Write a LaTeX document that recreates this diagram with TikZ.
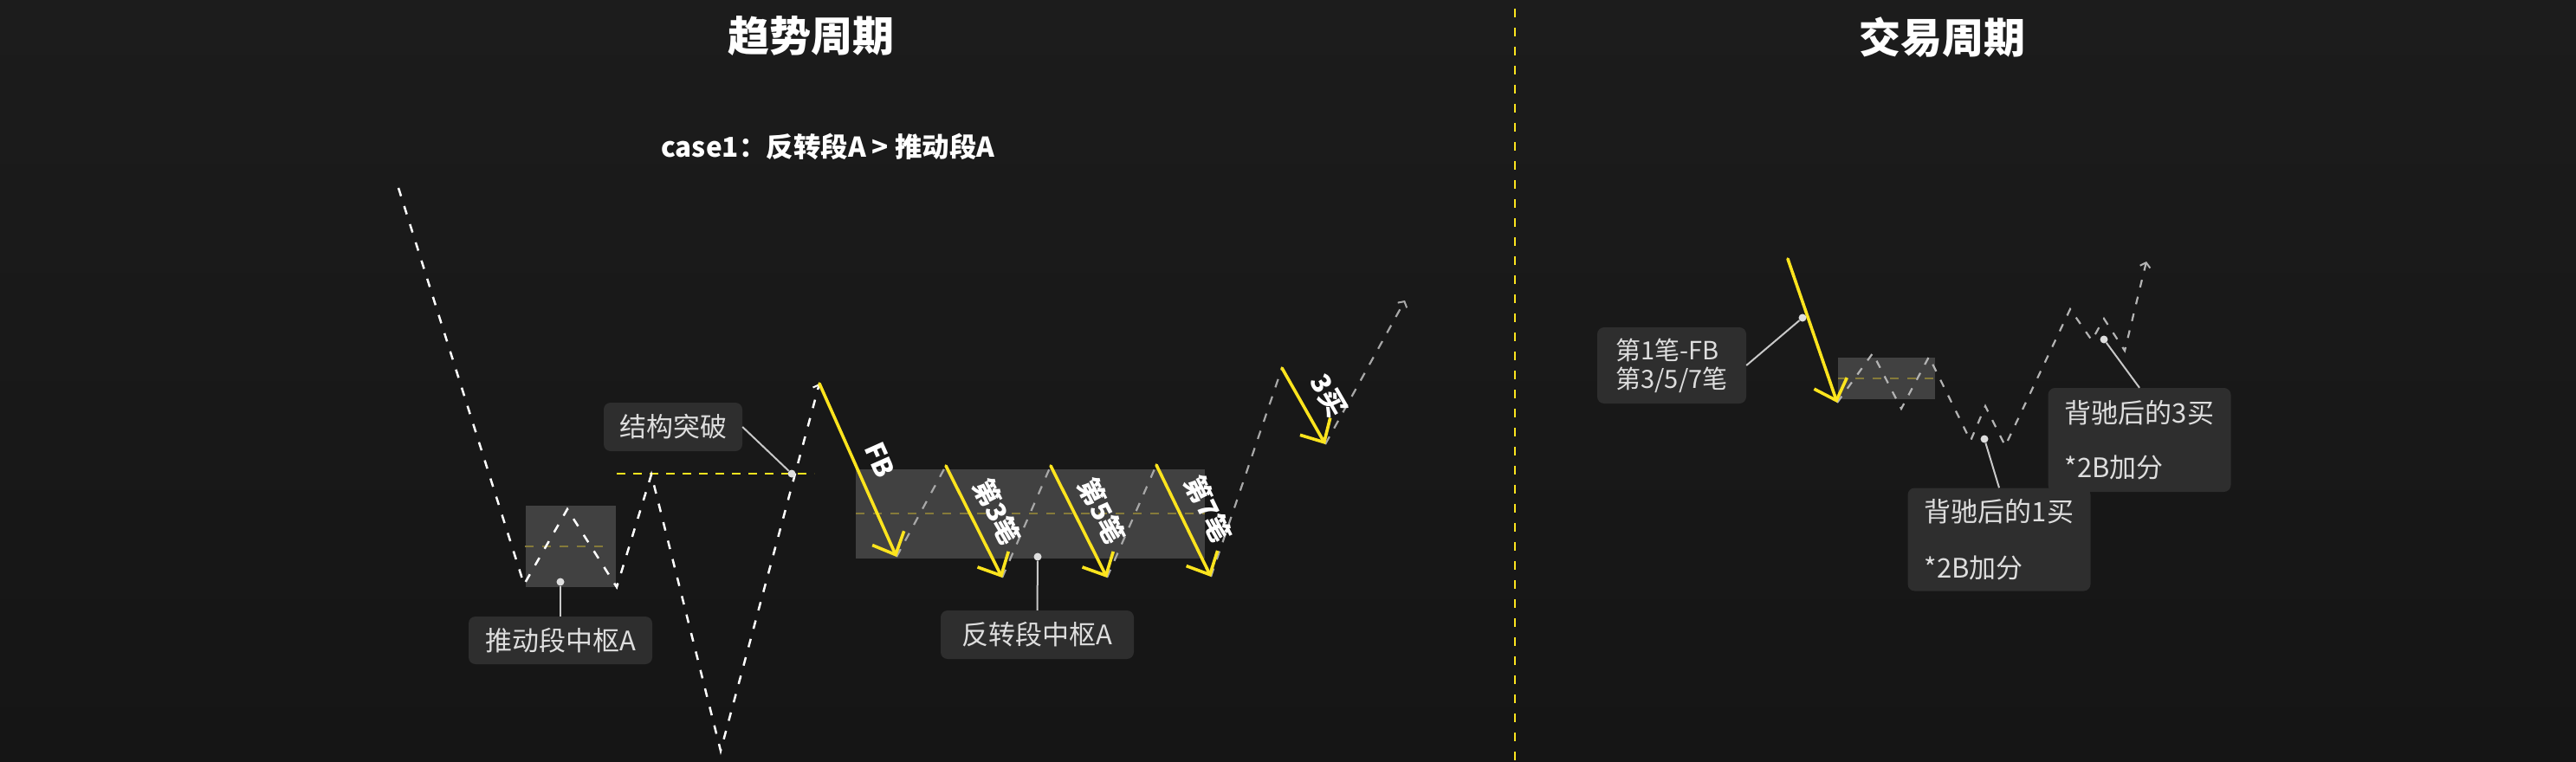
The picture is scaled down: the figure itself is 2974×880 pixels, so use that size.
\documentclass[tikz,border=0pt]{standalone}
\usepackage{fontspec}
\setmainfont{Noto Sans CJK SC}
\usetikzlibrary{arrows.meta}
\definecolor{bgtop}{HTML}{1C1C1C}
\definecolor{bgbot}{HTML}{151515}
\definecolor{ylw}{RGB}{252,228,30}
\definecolor{zsfill}{HTML}{414141}
\definecolor{olive}{HTML}{857A3A}
\definecolor{lblfill}{HTML}{2E2E2E}
\definecolor{lbltext}{HTML}{DEDEDE}
\definecolor{greyline}{HTML}{A8A8A8}
\definecolor{rgrey}{HTML}{B4B4B4}
\newcommand\fsz[2]{\fontsize{#1}{#2}\selectfont}
\tikzset{
  zs/.style={fill=zsfill},
  olivedash/.style={draw=olive, line width=2pt, dash pattern=on 10pt off 10pt},
  whitedash/.style={draw=white, line width=2.5pt, dash pattern=on 10pt off 12pt},
  greydash/.style={draw=greyline, line width=2.2pt, dash pattern=on 10pt off 11pt},
  rgreydash/.style={draw=rgrey, line width=2.2pt, dash pattern=on 9pt off 11pt},
  smalltip/.style={-{Straight Barb[length=5pt,width=12pt,line width=2pt]}},
  ybarb/.style={draw=ylw, line width=3.6pt, line cap=round, -{Straight Barb[length=21pt,width=40pt,line width=3.6pt]}},
  lbl/.style={fill=lblfill, rounded corners=8pt, text=lbltext, font=\fsz{31}{37}, inner sep=4pt},
  blab/.style={text=white, font=\bfseries\fsz{31}{37}, inner sep=0pt},
  dot/.style={circle, fill=lbltext, minimum size=9pt, inner sep=0pt},
  conn/.style={draw=lbltext!90!black, line width=2pt},
  ttl/.style={text=white, font=\bfseries\fsz{48}{56}, inner sep=0pt}
}
\begin{document}
\begin{tikzpicture}[x=1pt,y=-1pt]
\useasboundingbox (0,0) rectangle (2974,880);
\shade[top color=bgtop, bottom color=bgbot] (0,0) rectangle (2974,880);

% titles
\node[ttl] (T1) at (936,42) {趋势周期};
\node[ttl] (T2) at (2242,43) {交易周期};
\node[text=white, font=\bfseries\fsz{31.5}{37}, inner sep=0pt] (C1) at (956,169) {case1：反转段A > 推动段A};

% divider
\coordinate (dvA) at (1749,10);
\coordinate (dvB) at (1749,880);
\draw[draw=ylw, line width=2.5pt, dash pattern=on 10pt off 12pt] (dvA) -- (dvB);

% zhongshu boxes
\fill[zs] (607,584) rectangle (711,678);
\fill[zs] (988,542) rectangle (1391,645);
\fill[zs] (2122,413) rectangle (2234,461);
\draw[olivedash] (606,631) -- (704,631);
\draw[olivedash] (988,593) -- (1391,593);
\draw[olivedash] (2122,437) -- (2234,437);

% left panel path points
\coordinate (p0) at (460,217);
\coordinate (p1) at (605,675);
\coordinate (p2) at (655,588);
\coordinate (p3) at (712,678);
\coordinate (p4) at (752,548);
\coordinate (p5) at (832,867);
\coordinate (p6) at (946,443);
\coordinate (f1) at (1035,643);
\coordinate (s3a) at (1092,538);
\coordinate (s3b) at (1157,667);
\coordinate (s5a) at (1213,538);
\coordinate (s5b) at (1278,667);
\coordinate (s7a) at (1335,537);
\coordinate (s7b) at (1398,666);
\coordinate (b3a) at (1480,425);
\coordinate (b3b) at (1530,513);
\coordinate (tp) at (1622,347);

% breakout level
\coordinate (brA) at (712,547);
\coordinate (brB) at (940,547);
\draw[draw=ylw, line width=2.5pt, dash pattern=on 10pt off 9pt] (brA) -- (brB);

\draw[whitedash, smalltip] (p0) -- (p1) -- (p2) -- (p3) -- (p4) -- (p5) -- (p6);
\draw[greydash] (f1) -- (s3a);
\draw[greydash] (s3b) -- (s5a);
\draw[greydash] (s5b) -- (s7a);
\draw[greydash] (s7b) -- (b3a);
\draw[greydash, smalltip] (b3b) -- (tp);

\draw[ybarb] (p6) -- (f1);
\draw[ybarb] (s3a) -- (s3b);
\draw[ybarb] (s5a) -- (s5b);
\draw[ybarb] (s7a) -- (s7b);
\draw[ybarb] (b3a) -- (b3b);

\node[blab, rotate=-66] (tFB) at (1016,531) {FB};
\node[blab, rotate=-63] (t3) at (1151,591) {第3笔};
\node[blab, rotate=-63] (t5) at (1272,590) {第5笔};
\node[blab, rotate=-64] (t7) at (1395,588) {第7笔};
\node[blab, rotate=-60] (tb3) at (1534,457) {3买};

% right panel
\coordinate (r0) at (2064,299);
\coordinate (r1) at (2121,465);
\coordinate (z1) at (2162,408);
\coordinate (z2) at (2195,472);
\coordinate (z3) at (2227,412);
\coordinate (z4) at (2275,509);
\coordinate (z5) at (2292,469);
\coordinate (z6) at (2315,515);
\coordinate (z7) at (2390,357);
\coordinate (z8) at (2415,393);
\coordinate (z9) at (2429,368);
\coordinate (z10) at (2453,405);
\coordinate (z11) at (2478,302);
\draw[rgreydash, smalltip] (r1) -- (z1) -- (z2) -- (z3) -- (z4) -- (z5) -- (z6) -- (z7) -- (z8) -- (z9) -- (z10) -- (z11);
\draw[ybarb] (r0) -- (r1);

% labels
\node[lbl, minimum width=212pt, minimum height=55pt] (L1) at (647,739.5) {推动段中枢A};
\node[lbl, minimum width=160pt, minimum height=56pt] (L2) at (777,493) {结构突破};
\node[lbl, minimum width=223pt, minimum height=56pt] (L3) at (1197.5,733) {反转段中枢A};
\node[lbl, minimum width=172pt, minimum height=88pt, align=left, font=\fsz{29}{33}] (L4) at (1930,422) {第1笔-FB\\第3/5/7笔};
\node[lbl, minimum width=211pt, minimum height=119pt, align=left, font=\fsz{31}{65}] (L5) at (2308,623) {背驰后的1买\\*2B加分};
\node[lbl, minimum width=211pt, minimum height=120pt, align=left, font=\fsz{31}{63}] (L6) at (2470,508) {背驰后的3买\\*2B加分};

\node[dot] (D1) at (647,672) {};
\node[dot] (D2) at (914,547) {};
\node[dot] (D3) at (1198,643) {};
\node[dot] (D4) at (2081,367) {};
\node[dot] (D5) at (2291,507) {};
\node[dot] (D6) at (2429,392) {};

\draw[conn] (D1) -- (L1.north);
\draw[conn] (D2) -- (L2.east);
\draw[conn] (D3) -- (L3.north);
\draw[conn] (D4) -- (L4.east);
\draw[conn] (D5) -- (L5.north);
\draw[conn] (D6) -- (L6.north);
\end{tikzpicture}
\end{document}
